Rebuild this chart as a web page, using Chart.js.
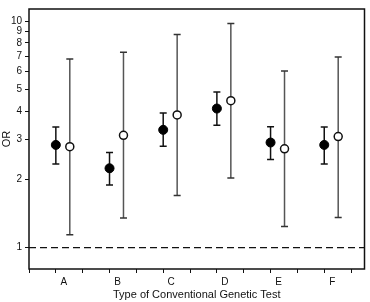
<!DOCTYPE html>
<html>
<head>
<meta charset="utf-8">
<script src="https://cdn.jsdelivr.net/npm/chart.js@4.4.1/dist/chart.umd.min.js"></script>
<style>
  body { margin: 0; background: #fff; }
  canvas { display: block; }
</style>
</head>
<body>
<canvas id="orChart" width="370" height="302"></canvas>
<script>
// odds ratios, per type of test
const groups = ['A', 'B', 'C', 'D', 'E', 'F'];
const filledOR = [2.84, 2.24, 3.31, 4.11, 2.91, 2.84];
const filledLo = [2.34, 1.89, 2.80, 3.47, 2.45, 2.34];
const filledHi = [3.41, 2.63, 3.93, 4.86, 3.42, 3.41];
const openOR = [2.79, 3.13, 3.85, 4.45, 2.73, 3.09];
const openLo = [1.14, 1.35, 1.70, 2.03, 1.24, 1.36];
const openHi = [6.80, 7.28, 8.73, 9.76, 6.02, 6.93];
const yTicks = [1, 2, 3, 4, 5, 6, 7, 8, 9, 10];
const refLine = 1;

// slot of each series inside a group
const filledPos = 0.5, openPos = 0.76;

function points(vals, off) {
    return vals.map((v, i) => ({ x: i + off, y: v }));
}
function bars(lo, hi, off) {
    let out = [];
    for (let i = 0; i < lo.length; i++) {
        out.push({ x: i + off, y: lo[i] });
        out.push({ x: i + off, y: hi[i] });
        out.push({ x: i + off, y: null });
    }
    return out;
}

const boxPlugin = {
    id: 'boxPlugin',
    afterDraw(chart) {
        const a = chart.chartArea, ctx = chart.ctx;
        ctx.save();
        ctx.strokeStyle = '#111';
        ctx.lineWidth = 1.5;
        ctx.strokeRect(a.left, a.top, a.right - a.left, a.bottom - a.top);
        ctx.restore();
    }
};

Chart.defaults.font.family = '"Liberation Sans", Arial, sans-serif';
Chart.defaults.color = '#111';

new Chart(document.getElementById('orChart'), {
    type: 'scatter',
    data: {
        datasets: [
            {
                label: 'filled',
                data: points(filledOR, filledPos),
                pointStyle: 'circle',
                pointRadius: 4.5,
                backgroundColor: '#000',
                borderColor: '#000',
                borderWidth: 1,
                order: 0
            },
            {
                label: 'open',
                data: points(openOR, openPos),
                pointStyle: 'circle',
                pointRadius: 4,
                backgroundColor: '#fff',
                borderColor: '#111',
                borderWidth: 1.5,
                order: 0
            },
            {
                label: 'filled CI',
                data: bars(filledLo, filledHi, filledPos),
                showLine: true,
                spanGaps: false,
                borderColor: '#111',
                borderWidth: 1.5,
                pointStyle: 'line',
                pointRadius: 3.5,
                pointBorderWidth: 1.5,
                pointBorderColor: '#111',
                order: 1
            },
            {
                label: 'open CI',
                data: bars(openLo, openHi, openPos),
                showLine: true,
                spanGaps: false,
                borderColor: '#555',
                borderWidth: 1.5,
                pointStyle: 'line',
                pointRadius: 3.5,
                pointBorderWidth: 1.5,
                pointBorderColor: '#333',
                order: 1
            },
            {
                label: 'ref',
                data: [{ x: 0, y: refLine }, { x: 6.25, y: refLine }],
                showLine: true,
                borderColor: '#111',
                borderWidth: 1.2,
                borderDash: [7, 4],
                pointRadius: 0,
                order: 2
            }
        ]
    },
    options: {
        responsive: false,
        animation: false,
        layout: { padding: { top: 1, right: 3, left: 0, bottom: 0 } },
        plugins: {
            legend: { display: false },
            tooltip: { enabled: false }
        },
        scales: {
            x: {
                type: 'linear',
                min: 0,
                max: 6.25,
                grid: { drawOnChartArea: false, tickLength: 4, color: '#111', lineWidth: 1 },
                border: { display: false },
                ticks: {
                    stepSize: 0.5,
                    includeBounds: false,
                    autoSkip: false,
                    maxRotation: 0,
                    labelOffset: 8,
                    padding: 3,
                    font: { size: 10 },
                    callback: function(v) {
                        const k = v - filledPos;
                        return Number.isInteger(k) && groups[k] ? groups[k] : '';
                    }
                },
                title: {
                    display: true,
                    text: 'Type of Conventional Genetic Test',
                    font: { size: 11 },
                    padding: { top: 4, bottom: 0 }
                },
                afterFit: s => { s.height = 33; }
            },
            y: {
                type: 'logarithmic',
                min: 0.805,
                max: 11.3,
                grid: { drawOnChartArea: false, tickLength: 4, color: '#111', lineWidth: 1 },
                border: { display: false },
                afterBuildTicks: s => { s.ticks = yTicks.map(v => ({ value: v })); },
                ticks: {
                    padding: 3,
                    font: { size: 10 },
                    callback: v => String(v)
                },
                title: {
                    display: true,
                    text: 'OR',
                    font: { size: 11 },
                    padding: 0
                },
                afterFit: s => { s.width = 29; }
            }
        }
    },
    plugins: [boxPlugin]
});
</script>
</body>
</html>
